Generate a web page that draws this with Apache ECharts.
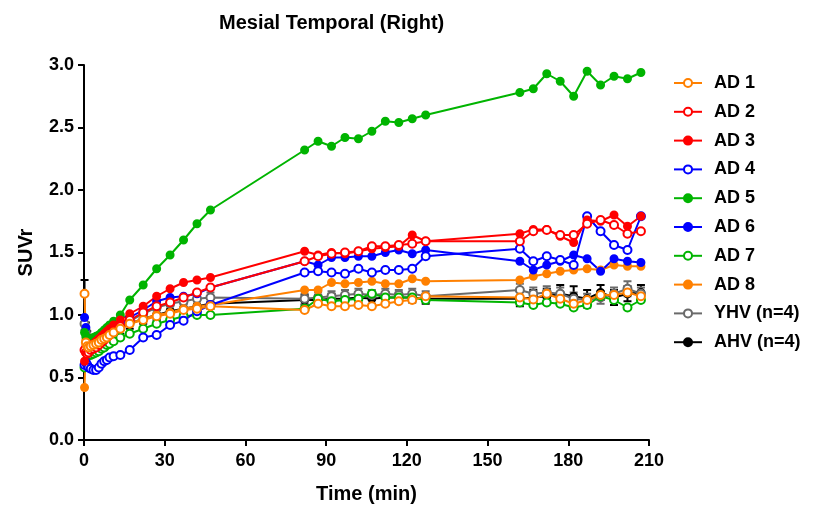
<!DOCTYPE html>
<html><head><meta charset="utf-8">
<script src="https://cdn.jsdelivr.net/npm/echarts@6/dist/echarts.min.js"></script>
<style>html,body{margin:0;padding:0;background:#fff}#c{width:821px;height:509px}</style>
</head><body><div id="c"></div>
<script>
// Time points (min)
const tEarly = [0.2, 0.7, 1.2, 1.7, 2.5, 3.5, 4.5, 5.5, 6.5, 7.5, 8.5, 9.5, 11, 13.5, 17, 22, 27, 32, 37, 42, 47];
const tMid = [82, 87, 92, 97, 102, 107, 112, 117, 122, 127];
const tLate = [162, 167, 172, 177, 182, 187, 192, 197, 202, 207];

const AD1 = [1.17, 0.78, 0.75, 0.74, 0.75, 0.76, 0.77, 0.78, 0.80, 0.81, 0.82, 0.84, 0.86, 0.89, 0.93, 0.96, 0.99, 1.01, 1.04, 1.05, 1.07,
  1.04, 1.09, 1.07, 1.07, 1.08, 1.07, 1.09, 1.11, 1.12, 1.15,
  1.14, 1.125, 1.17, 1.13, 1.09, 1.12, 1.16, 1.16, 1.18, 1.15];
const AD2 = [0.72, 0.70, 0.69, 0.70, 0.72, 0.73, 0.74, 0.76, 0.78, 0.80, 0.82, 0.84, 0.87, 0.91, 0.96, 1.02, 1.07, 1.10, 1.14, 1.18, 1.22,
  1.43, 1.47, 1.49, 1.50, 1.51, 1.55, 1.55, 1.56, 1.57, 1.59,
  1.59, 1.67, 1.68, 1.64, 1.64, 1.73, 1.76, 1.72, 1.65, 1.67];
const AD3 = [0.63, 0.75, 0.77, 0.76, 0.76, 0.77, 0.79, 0.81, 0.83, 0.85, 0.87, 0.89, 0.92, 0.96, 1.01, 1.07, 1.15, 1.21, 1.26, 1.28, 1.30,
  1.51, 1.48, 1.50, 1.49, 1.51, 1.53, 1.54, 1.55, 1.64, 1.59,
  1.65, 1.685, 1.685, 1.63, 1.58, 1.76, 1.75, 1.80, 1.71, 1.79];
const AD4 = [0.60, 0.62, 0.60, 0.58, 0.57, 0.56, 0.56, 0.58, 0.61, 0.63, 0.64, 0.66, 0.67, 0.68, 0.72, 0.82, 0.84, 0.92, 0.955, 1.03, 1.08,
  1.34, 1.35, 1.34, 1.33, 1.37, 1.34, 1.36, 1.36, 1.37, 1.47,
  1.53, 1.43, 1.47, 1.44, 1.40, 1.79, 1.67, 1.56, 1.52, 1.79];
const AD5 = [0.86, 0.83, 0.80, 0.80, 0.81, 0.82, 0.83, 0.84, 0.86, 0.88, 0.90, 0.92, 0.95, 1.00, 1.12, 1.24, 1.37, 1.48, 1.60, 1.73, 1.84,
  2.32, 2.39, 2.35, 2.42, 2.41, 2.47, 2.55, 2.54, 2.57, 2.60,
  2.78, 2.81, 2.93, 2.87, 2.75, 2.95, 2.84, 2.91, 2.89, 2.94];
const AD6 = [0.98, 0.90, 0.80, 0.76, 0.76, 0.77, 0.79, 0.80, 0.82, 0.84, 0.86, 0.87, 0.89, 0.93, 0.98, 1.04, 1.11, 1.14, 1.15, 1.17, 1.22,
  1.43, 1.40, 1.46, 1.46, 1.47, 1.47, 1.50, 1.52, 1.49, 1.52,
  1.43, 1.36, 1.40, 1.43, 1.48, 1.45, 1.35, 1.45, 1.43, 1.42];
const AD7 = [0.58, 0.72, 0.70, 0.68, 0.68, 0.69, 0.70, 0.71, 0.73, 0.74, 0.76, 0.77, 0.79, 0.82, 0.85, 0.89, 0.93, 0.96, 0.99, 1.00, 1.00,
  1.05, 1.13, 1.11, 1.12, 1.13, 1.17, 1.14, 1.14, 1.14, 1.12,
  1.10, 1.08, 1.10, 1.09, 1.06, 1.08, 1.15, 1.12, 1.06, 1.12];
const AD8 = [0.42, 0.80, 0.77, 0.76, 0.77, 0.78, 0.79, 0.80, 0.81, 0.82, 0.83, 0.85, 0.87, 0.90, 0.93, 0.97, 1.00, 1.02, 1.05, 1.07, 1.08,
  1.20, 1.20, 1.26, 1.25, 1.26, 1.27, 1.25, 1.25, 1.29, 1.27,
  1.28, 1.31, 1.33, 1.35, 1.36, 1.37, 1.36, 1.40, 1.39, 1.39];
const YHV = [0.93, 0.86, 0.80, 0.78, 0.77, 0.78, 0.79, 0.80, 0.81, 0.83, 0.84, 0.86, 0.88, 0.91, 0.95, 1.01, 1.06, 1.09, 1.11, 1.13, 1.14,
  1.13, 1.14, 1.15, 1.16, 1.17, 1.16, 1.17, 1.16, 1.17, 1.15,
  1.20, 1.17, 1.18, 1.17, 1.13, 1.12, 1.14, 1.17, 1.21, 1.17];
const YHV_err = [0.05, 0.04, 0.03, 0.03, 0.03, 0.03, 0.03, 0.03, 0.03, 0.03, 0.03, 0.03, 0.03, 0.03, 0.03, 0.03, 0.04, 0.04, 0.04, 0.04, 0.04,
  0.04, 0.04, 0.04, 0.04, 0.04, 0.04, 0.04, 0.04, 0.04, 0.04,
  0.05, 0.05, 0.05, 0.05, 0.05, 0.05, 0.05, 0.05, 0.06, 0.05];
const AHV = [0.93, 0.88, 0.82, 0.78, 0.77, 0.77, 0.78, 0.79, 0.80, 0.82, 0.83, 0.84, 0.86, 0.89, 0.93, 0.97, 1.00, 1.03, 1.05, 1.07, 1.09,
  1.12, 1.12, 1.13, 1.13, 1.14, 1.13, 1.14, 1.14, 1.14, 1.13,
  1.13, 1.14, 1.15, 1.17, 1.15, 1.13, 1.18, 1.14, 1.17, 1.18];
const AHV_err = [0.35, 0.06, 0.05, 0.04, 0.04, 0.04, 0.04, 0.04, 0.04, 0.04, 0.04, 0.04, 0.04, 0.04, 0.04, 0.04, 0.04, 0.04, 0.04, 0.04, 0.04,
  0.04, 0.04, 0.04, 0.04, 0.04, 0.04, 0.04, 0.04, 0.04, 0.04,
  0.06, 0.06, 0.06, 0.07, 0.08, 0.07, 0.06, 0.06, 0.06, 0.06];

const xTicks = [0, 30, 60, 90, 120, 150, 180, 210];
const yTicks = [0.0, 0.5, 1.0, 1.5, 2.0, 2.5, 3.0];

const times = tEarly.concat(tMid, tLate);
const pairs = v => times.map((t, i) => [t, v[i]]);

const ORANGE = '#FF8000', RED = '#FF0000', BLUE = '#0000FF', GREEN = '#00B400', GREY = '#6A6A6A', BLACK = '#000000';
const defs = [
  ['AD 1', AD1, ORANGE, false],
  ['AD 2', AD2, RED, false],
  ['AD 3', AD3, RED, true],
  ['AD 4', AD4, BLUE, false],
  ['AD 5', AD5, GREEN, true],
  ['AD 6', AD6, BLUE, true],
  ['AD 7', AD7, GREEN, false],
  ['AD 8', AD8, ORANGE, true],
  ['YHV (n=4)', YHV, GREY, false],
  ['AHV (n=4)', AHV, BLACK, true]
];

function errSeries(name, vals, errs, color) {
  return {
    type: 'custom', name: name, z: 1, silent: true,
    data: times.map((t, i) => [t, vals[i] - errs[i], vals[i] + errs[i]]),
    renderItem: function (params, api) {
      const lo = api.coord([api.value(0), api.value(1)]);
      const hi = api.coord([api.value(0), api.value(2)]);
      const w = 4;
      const st = { stroke: color, lineWidth: 2 };
      return { type: 'group', children: [
        { type: 'line', shape: { x1: lo[0], y1: lo[1], x2: hi[0], y2: hi[1] }, style: st },
        { type: 'line', shape: { x1: lo[0] - w, y1: lo[1], x2: lo[0] + w, y2: lo[1] }, style: st },
        { type: 'line', shape: { x1: hi[0] - w, y1: hi[1], x2: hi[0] + w, y2: hi[1] }, style: st }
      ]};
    }
  };
}

const lineSeries = d => ({
  name: d[0], type: 'line', data: pairs(d[1]), z: 3,
  symbol: d[3] ? 'circle' : 'emptyCircle', symbolSize: d[3] ? 7 : 8,
  lineStyle: { color: d[2], width: 2 },
  itemStyle: { color: d[2], borderColor: d[2], borderWidth: 2 },
  emphasis: { disabled: true }
});

const series = [
  errSeries('AHV err', AHV, AHV_err, BLACK),
  lineSeries(defs[9]),
  errSeries('YHV err', YHV, YHV_err, GREY),
  lineSeries(defs[8])
];
for (let i = 7; i >= 0; i--) series.push(lineSeries(defs[i]));

const FONT = 'Liberation Sans, Arial, sans-serif';
const chart = echarts.init(document.getElementById('c'), null, { renderer: 'canvas' });
chart.setOption({
  animation: false,
  backgroundColor: '#ffffff',
  title: {
    text: 'Mesial Temporal (Right)', left: 214, top: 8,
    textStyle: { fontFamily: FONT, fontWeight: 'bold', fontSize: 20, color: '#000' }
  },
  grid: { left: 84, right: 172, top: 65, bottom: 69 },
  legend: {
    orient: 'vertical', left: 668, top: 68, itemWidth: 28, itemHeight: 10, itemGap: 8.8,
    data: defs.map(d => d[0]),
    textStyle: { fontFamily: FONT, fontWeight: 'bold', fontSize: 18, lineHeight: 20, color: '#000', padding: [0, 0, 0, 7] }
  },
  xAxis: {
    type: 'value', min: 0, max: 210, interval: 30,
    name: 'Time (min)', nameLocation: 'middle', nameGap: 44,
    nameTextStyle: { fontFamily: FONT, fontWeight: 'bold', fontSize: 20, color: '#000' },
    axisLine: { onZero: false, lineStyle: { color: '#000', width: 2 } },
    axisTick: { show: true, length: 6, inside: false, lineStyle: { color: '#000', width: 2 } },
    axisLabel: { fontFamily: FONT, fontWeight: 'bold', fontSize: 18, color: '#000', margin: 12,
      customValues: xTicks },
    splitLine: { show: false }
  },
  yAxis: {
    type: 'value', min: 0, max: 3, interval: 0.5,
    name: 'SUVr', nameLocation: 'middle', nameGap: 48,
    nameTextStyle: { fontFamily: FONT, fontWeight: 'bold', fontSize: 20, color: '#000' },
    axisLine: { show: true, onZero: false, lineStyle: { color: '#000', width: 2 } },
    axisTick: { show: true, length: 6, lineStyle: { color: '#000', width: 2 } },
    axisLabel: { fontFamily: FONT, fontWeight: 'bold', fontSize: 18, color: '#000', margin: 10,
      formatter: v => v.toFixed(1) },
    splitLine: { show: false }
  },
  series: series
});
</script></body></html>
